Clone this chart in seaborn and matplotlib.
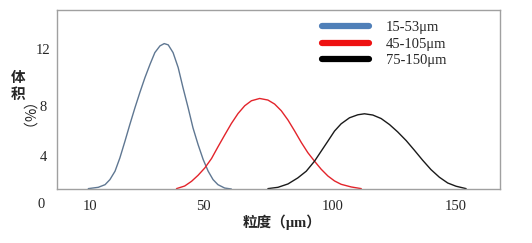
import numpy as np
import pandas as pd
import matplotlib
matplotlib.use("Agg")
import matplotlib.pyplot as plt
from matplotlib.lines import Line2D
import seaborn as sns

# ---- data ----
x_15_53 = [9.4, 12.9, 15.3, 17.0, 18.8, 20.5, 22.3, 24.0, 25.8, 27.5, 29.3, 31.1, 32.8, 34.6, 36.1,
           37.5, 39.2, 41.0, 42.7, 44.5, 46.2, 48.0, 49.8, 51.7, 53.6, 55.5, 58.1, 60.7]
y_15_53 = [1.28, 1.39, 1.61, 2.03, 2.73, 3.83, 5.18, 6.50, 7.84, 8.91, 9.96, 10.90, 11.72, 12.19, 12.35,
           12.26, 11.72, 10.67, 9.26, 7.84, 6.24, 4.90, 3.69, 2.73, 2.03, 1.61, 1.33, 1.25]

x_45_105 = [40.4, 43.3, 45.7, 48.0, 50.4, 53.0, 55.5, 58.1, 60.7, 63.3, 65.9, 68.5, 71.7, 74.9, 77.5,
            80.1, 82.7, 85.3, 87.9, 90.4, 93.0, 95.6, 98.2, 100.8, 103.5, 107.6, 111.7]
y_45_105 = [1.28, 1.5, 1.89, 2.39, 3.0, 3.78, 4.72, 5.66, 6.58, 7.38, 8.0, 8.35, 8.51, 8.40, 8.12,
            7.60, 6.86, 5.98, 5.06, 4.26, 3.56, 2.89, 2.33, 1.92, 1.64, 1.42, 1.28]

x_75_150 = [74.9, 78.8, 82.7, 86.5, 89.8, 93.0, 95.6, 98.2, 100.8, 103.5, 106.9, 110.3, 113.0, 116.4,
            119.8, 123.2, 126.5, 130.0, 133.3, 136.7, 140.1, 143.5, 146.9, 150.3, 154.4]
y_75_150 = [1.28, 1.39, 1.67, 2.17, 2.73, 3.56, 4.38, 5.18, 5.98, 6.56, 7.04, 7.28, 7.36, 7.26,
            6.98, 6.50, 5.92, 5.22, 4.46, 3.64, 2.86, 2.23, 1.75, 1.48, 1.28]

series_names = ["15-53μm", "45-105μm", "75-150μm"]
x_ticks = [10, 50, 100, 150]
y_ticks = [4, 8, 12]

# ---- axis scales (the original axes are not uniformly spaced) ----
xk_val = [-20, 10, 50, 100, 150, 200]
xk_pos = [4.5, 90, 204, 333, 456, 579]
yk_val = [-4, 0, 4, 8, 12, 16]
yk_pos = [-252, -204, -156, -106, -49, 8]

def xf(v):
    return np.interp(v, xk_val, xk_pos)
def xi(p):
    return np.interp(p, xk_pos, xk_val)
def yf(v):
    return np.interp(v, yk_val, yk_pos)
def yi(p):
    return np.interp(p, yk_pos, yk_val)

frames = []
for name, xs, ys in zip(series_names, [x_15_53, x_45_105, x_75_150], [y_15_53, y_45_105, y_75_150]):
    frames.append(pd.DataFrame({"size": xs, "vol": ys, "series": name}))
df = pd.concat(frames, ignore_index=True)

sns.set_style("white")
serif = ["Liberation Serif", "Noto Sans CJK SC"]
plt.rcParams["font.family"] = serif

fig = plt.figure(figsize=(5.32, 2.43), dpi=100)
ax = fig.add_axes([57/532, 1 - 189/243, (500-57)/532, (189-10)/243])

ax.set_xscale("function", functions=(xf, xi))
ax.set_yscale("function", functions=(yf, yi))

line_colors = {"15-53μm": "#5f7792", "45-105μm": "#e3242b", "75-150μm": "#1a1a1a"}
sns.lineplot(data=df, x="size", y="vol", hue="series", palette=line_colors,
             linewidth=1.0, ax=ax, legend=False, sort=False, estimator=None)

ax.set_xlim(-1.6, 168.2)
ax.set_ylim(1.25, 14.7)
ax.set_xticks(x_ticks)
ax.set_xticklabels([str(t) for t in x_ticks])
ax.set_yticks(y_ticks)
ax.set_yticklabels([str(t) for t in y_ticks])
ax.tick_params(axis="both", length=0, labelsize=10.5)
ax.tick_params(axis="x", pad=8)
ax.tick_params(axis="y", pad=10)
for lab in ax.get_yticklabels():
    lab.set_horizontalalignment("center")
ax.minorticks_off()
for s in ax.spines.values():
    s.set_color("#a0a0a0")
    s.set_linewidth(1.0)
ax.set_xlabel("")
ax.set_ylabel("")

# "0" origin label below the frame
fig.text(41/532, 1 - 204/243, "0", ha="center", va="center", fontsize=10.5)

# axis titles
fig.text(282/532, 1 - 222/243, "粒度（μm）", ha="center", va="center",
         fontsize=10.5, fontweight="bold", family=serif)
fig.text(18/532, 1 - 77/243, "体", ha="center", va="center", fontsize=10.5,
         fontweight="bold", family=["Noto Sans CJK SC"])
fig.text(18/532, 1 - 94/243, "积", ha="center", va="center", fontsize=10.5,
         fontweight="bold", family=["Noto Sans CJK SC"])
fig.text(18/532, 1 - 125/243, "（%）", ha="center", va="center", fontsize=10.5,
         rotation=270, family=["Noto Sans CJK SC"])

legend_colors = ["#4f7fb8", "#ee1111", "#000000"]
handles = [Line2D([0], [0], color=c, linewidth=4.5) for c in legend_colors]
ax.legend(handles, series_names, loc="upper left",
          bbox_to_anchor=(322/532, 1 - 21/243), bbox_transform=fig.transFigure,
          frameon=False, fontsize=10.5, handlelength=3.2, handletextpad=1.2,
          labelspacing=0.22, borderpad=0, borderaxespad=0)

fig.savefig("out.png", dpi=100)
